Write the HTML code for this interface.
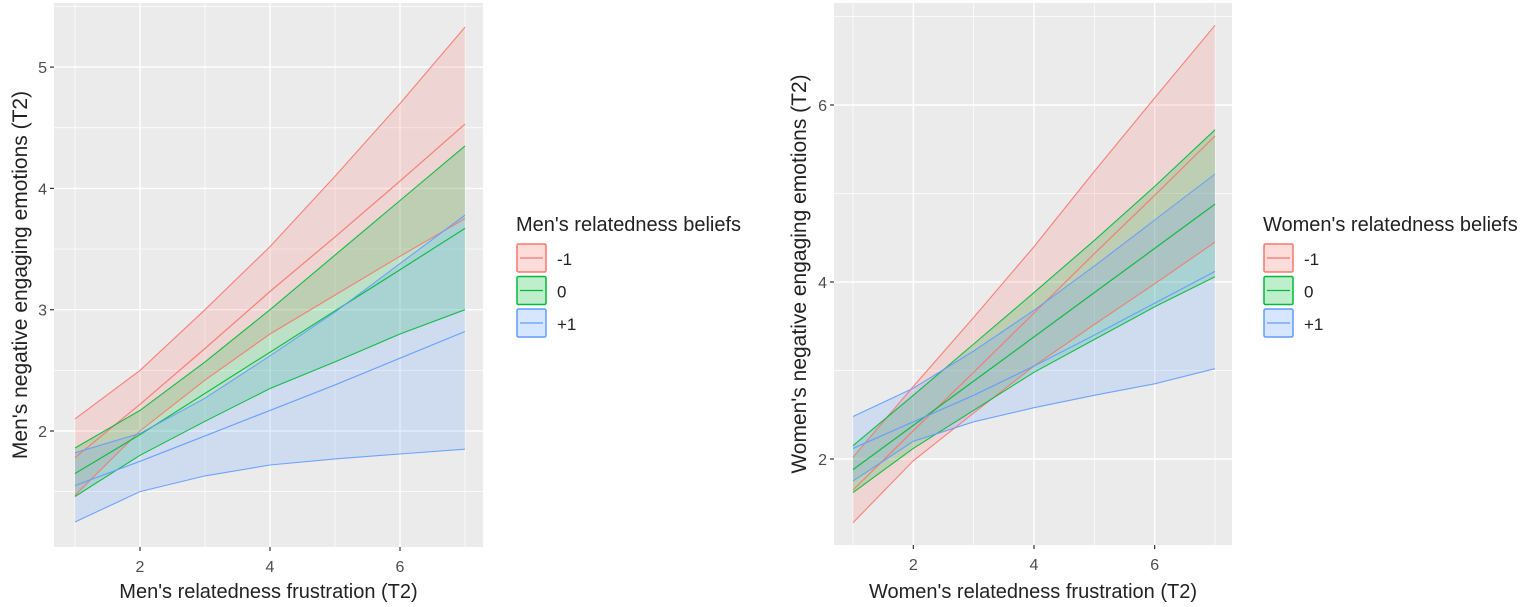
<!DOCTYPE html>
<html><head><meta charset="utf-8">
<style>
html,body{margin:0;padding:0;background:#fff;}
svg{display:block;font-family:"Liberation Sans",Arial,sans-serif;}
</style></head>
<body>
<svg id="chart" width="1535" height="607" viewBox="0 0 1535 607" xmlns="http://www.w3.org/2000/svg"></svg>
<script>
// ---- data (x = 1..7) ----
const xValues = [1,2,3,4,5,6,7];
const groupLabels = ["-1","0","+1"];
// Men
const menRedUpper  = [2.10,2.50,3.00,3.52,4.10,4.70,5.33];
const menRedMean   = [1.78,2.22,2.68,3.15,3.60,4.06,4.53];
const menRedLower  = [1.47,2.00,2.42,2.80,3.12,3.44,3.75];
const menGreenUpper= [1.86,2.17,2.57,3.00,3.45,3.90,4.35];
const menGreenMean = [1.65,1.97,2.31,2.65,2.99,3.33,3.67];
const menGreenLower= [1.46,1.80,2.08,2.35,2.57,2.80,3.00];
const menBlueUpper = [1.82,1.98,2.27,2.62,2.98,3.38,3.78];
const menBlueMean  = [1.55,1.75,1.96,2.17,2.38,2.60,2.82];
const menBlueLower = [1.25,1.50,1.63,1.72,1.77,1.81,1.85];
const menYTicks = [2,3,4,5];
// Women
const womRedUpper  = [2.02,2.82,3.60,4.40,5.25,6.08,6.90];
const womRedMean   = [1.65,2.32,2.98,3.65,4.32,4.98,5.65];
const womRedLower  = [1.28,1.98,2.52,3.05,3.52,3.98,4.45];
const womGreenUpper= [2.15,2.72,3.30,3.88,4.47,5.08,5.72];
const womGreenMean = [1.88,2.38,2.88,3.38,3.88,4.38,4.88];
const womGreenLower= [1.62,2.12,2.55,2.98,3.35,3.72,4.06];
const womBlueUpper = [2.48,2.80,3.22,3.68,4.18,4.70,5.22];
const womBlueMean  = [2.12,2.42,2.72,3.05,3.40,3.76,4.12];
const womBlueLower = [1.75,2.20,2.42,2.58,2.72,2.85,3.02];
const womYTicks = [2,4,6];
const xTicks = [2,4,6];

const NS="http://www.w3.org/2000/svg";
const svg=document.getElementById('chart');
function mk(tag,attrs,parent){const e=document.createElementNS(NS,tag);for(const k in attrs)e.setAttribute(k,attrs[k]);(parent||svg).appendChild(e);return e;}
const colors=["#F8766D","#00BA38","#619CFF"];

function panel(cfg){
  const g=mk('g',{});
  
  
  const sx=v=>cfg.x1px+(v-1)*(cfg.x7px-cfg.x1px)/6;
  const sy=v=>cfg.yRefPx-(v-cfg.yRef)*cfg.pxPerUnit;
  const bg=mk('rect',{x:cfg.left,y:cfg.top,width:cfg.right-cfg.left,height:cfg.bottom-cfg.top,fill:'#EBEBEB'},g);
  
  
  const ymin=cfg.yRef-(cfg.bottom-cfg.yRefPx)/cfg.pxPerUnit, ymax=cfg.yRef+(cfg.yRefPx-cfg.top)/cfg.pxPerUnit;
  const step=cfg.yTicks[1]-cfg.yTicks[0];
  for(let v=cfg.yTicks[0]-step/2; v<=ymax; v+=step){ if(v<ymin) continue;
    mk('line',{x1:cfg.left,x2:cfg.right,y1:sy(v),y2:sy(v),stroke:'#fff','stroke-width':0.7},g);}
  for(let v=1; v<=7; v+=2){ mk('line',{x1:sx(v),x2:sx(v),y1:cfg.top,y2:cfg.bottom,stroke:'#fff','stroke-width':0.7},g);}
  cfg.yTicks.forEach(v=>{
    mk('line',{x1:cfg.left,x2:cfg.right,y1:sy(v),y2:sy(v),stroke:'#fff','stroke-width':1.4},g);
    mk('line',{x1:cfg.left-4,x2:cfg.left,y1:sy(v),y2:sy(v),stroke:'#333','stroke-width':1.2},g);
    const t=mk('text',{x:cfg.left-7,y:sy(v)+6,'text-anchor':'end','font-size':16,fill:'#4D4D4D'},g);
    t.textContent=v;
    
    
  });
  xTicks.forEach(v=>{
    mk('line',{x1:sx(v),x2:sx(v),y1:cfg.top,y2:cfg.bottom,stroke:'#fff','stroke-width':1.4},g);
    mk('line',{x1:sx(v),x2:sx(v),y1:cfg.bottom,y2:cfg.bottom+4,stroke:'#333','stroke-width':1.2},g);
    const t=mk('text',{x:sx(v),y:cfg.bottom+25,'text-anchor':'middle','font-size':16,fill:'#4D4D4D'},g);
    t.textContent=v;
    
    
  });
  const pts=a=>a.map((v,i)=>sx(xValues[i]).toFixed(1)+','+sy(v).toFixed(1));
  cfg.series.forEach((s,k)=>{
    const p=mk('polygon',{points:pts(s[0]).concat(pts(s[2]).reverse()).join(' '),fill:colors[k],'fill-opacity':0.2,stroke:'none'},g);
    
    
  });
  cfg.series.forEach((s,k)=>{
    s.forEach((arr,j)=>{
      const l=mk('polyline',{points:pts(arr).join(' '),fill:'none',stroke:colors[k],'stroke-width':j==1?1.2:1.1,'stroke-opacity':0.9},g);
      
      
    });
  });
  const xt=mk('text',{x:(cfg.left+cfg.right)/2,y:598,'text-anchor':'middle','font-size':20,fill:'#222'},g);
  xt.textContent=cfg.xTitle;
  
  
  const yc=(cfg.top+cfg.bottom)/2;
  const yt=mk('text',{x:cfg.yTitleX,y:yc,'text-anchor':'middle','font-size':21,fill:'#222',transform:`rotate(-90 ${cfg.yTitleX} ${yc})`},g);
  yt.textContent=cfg.yTitle;
  
  
  const lg=mk('g',{},g);
  
  
  const lt=mk('text',{x:cfg.legX,y:231,'font-size':20,fill:'#222'},lg);
  lt.textContent=cfg.legTitle;
  
  
  groupLabels.forEach((lab,k)=>{
    const y0=243+k*32.5;
    const e=mk('g',{},lg);
    
    
    mk('rect',{x:cfg.legX+1,y:y0+1,width:29,height:28,fill:'#fff'},e);
    mk('rect',{x:cfg.legX+1,y:y0+1,width:29,height:28,fill:colors[k],'fill-opacity':0.25,stroke:colors[k],'stroke-width':1.5,rx:1.5},e);
    mk('line',{x1:cfg.legX+4,x2:cfg.legX+27,y1:y0+15,y2:y0+15,stroke:colors[k],'stroke-width':1.2},e);
    const t=mk('text',{x:cfg.legX+41,y:y0+22,'font-size':17,fill:'#222'},e);
    t.textContent=lab;
  });
}

panel({name:'men-panel',left:54,right:483,top:3,bottom:547,x1px:75,x7px:465,yRef:2,yRefPx:431,pxPerUnit:121.3,
  yTicks:menYTicks,yTitleX:27,xTitle:"Men's relatedness frustration (T2)",yTitle:"Men's negative engaging emotions (T2)",
  legX:516,legTitle:"Men's relatedness beliefs",
  series:[[menRedUpper,menRedMean,menRedLower],[menGreenUpper,menGreenMean,menGreenLower],[menBlueUpper,menBlueMean,menBlueLower]]});
panel({name:'women-panel',left:834,right:1232,top:3,bottom:545,x1px:853,x7px:1215,yRef:2,yRefPx:459,pxPerUnit:88.5,
  yTicks:womYTicks,yTitleX:806,xTitle:"Women's relatedness frustration (T2)",yTitle:"Women's negative engaging emotions (T2)",
  legX:1263,legTitle:"Women's relatedness beliefs",
  series:[[womRedUpper,womRedMean,womRedLower],[womGreenUpper,womGreenMean,womGreenLower],[womBlueUpper,womBlueMean,womBlueLower]]});
</script>
</body></html>
